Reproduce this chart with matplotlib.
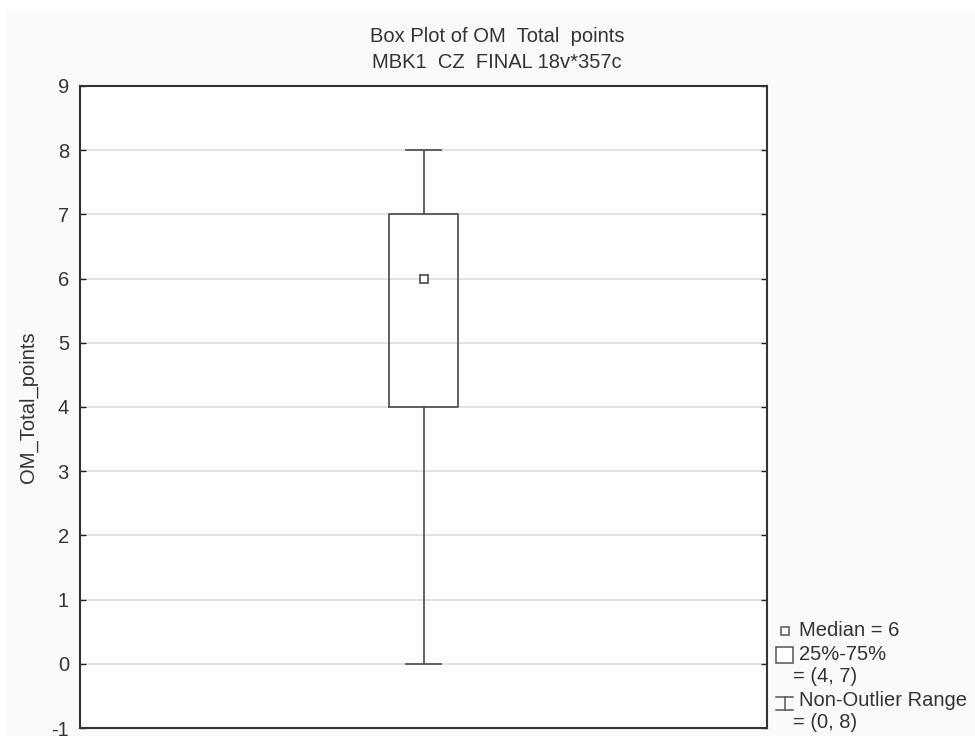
import matplotlib
matplotlib.use("Agg")
import matplotlib.pyplot as plt
from matplotlib.patches import Rectangle
from matplotlib.lines import Line2D

# summary values
variable = "OM_Total_points"
title_lines = ["Box Plot of OM  Total  points", "MBK1  CZ  FINAL 18v*357c"]
median = 6
q25, q75 = 4, 7
whisker_lo, whisker_hi = 0, 8
y_ticks = [-1, 0, 1, 2, 3, 4, 5, 6, 7, 8, 9]

plt.rcParams['font.family'] = ['Liberation Sans', 'DejaVu Sans']
plt.rcParams['axes.unicode_minus'] = False
edge = '#555555'
txt = '#333333'

fig = plt.figure(figsize=(9.75, 7.36), dpi=100)
fig.patch.set_facecolor('#fafafa')
# white strip of the screenshot border
fig.patches.append(Rectangle((0, 1 - 10 / 736), 1, 10 / 736, transform=fig.transFigure,
                             facecolor='white', edgecolor='none', zorder=-1))
fig.patches.append(Rectangle((0, 0), 6 / 975, 1, transform=fig.transFigure,
                             facecolor='white', edgecolor='none', zorder=-1))

ax = fig.add_axes([80 / 975, 8 / 736, 687 / 975, 642 / 736])
ax.set_facecolor('white')

stats = [dict(med=median, q1=q25, q3=q75, whislo=whisker_lo, whishi=whisker_hi, fliers=[])]
ax.bxp(stats, positions=[0], widths=0.2, showcaps=True, patch_artist=False,
       boxprops=dict(color=edge, linewidth=1.3),
       whiskerprops=dict(color=edge, linewidth=1.3),
       capprops=dict(color=edge, linewidth=1.3),
       medianprops=dict(linewidth=0))
ax.plot([0], [median], marker='s', markersize=6, markerfacecolor='white',
        markeredgecolor=edge, markeredgewidth=1.3, linestyle='none', zorder=5)

ax.set_xlim(-1, 1)
ax.set_ylim(min(y_ticks), max(y_ticks))
ax.set_yticks(y_ticks)
ax.set_xticks([])
ax.yaxis.grid(True, color='#dddddd', linewidth=1.2)
ax.set_axisbelow(True)
ax.tick_params(axis='y', direction='in', length=4, width=1, color='#222222',
               labelsize=14.5, labelcolor=txt, pad=8, right=True)
for s in ax.spines.values():
    s.set_color('#333333')
    s.set_linewidth(1.5)
ax.set_ylabel(variable, fontsize=14.5, color=txt)
ax.yaxis.set_label_coords(-52 / 687, 0.5)
ax.yaxis.label.set_va('center')

fig.text(497 / 975, 1 - 36 / 736, title_lines[0], ha='center', va='center',
         fontsize=14.5, color=txt)
fig.text(497 / 975, 1 - 62 / 736, title_lines[1], ha='center', va='center',
         fontsize=14.5, color=txt)

# legend, drawn in figure pixels
def fy(py):
    return 1 - py / 736

def fx(px):
    return px / 975

fig.lines.append(Line2D([fx(785)], [fy(631)], marker='s', markersize=6, markerfacecolor='white',
                        markeredgecolor=edge, markeredgewidth=1.1, transform=fig.transFigure))
fig.patches.append(Rectangle((fx(776), fy(663)), fx(793) - fx(776), fy(647) - fy(663),
                             transform=fig.transFigure, facecolor='white', edgecolor=edge,
                             linewidth=1.1))
for xs, ys in [([776, 793], [697, 697]), ([776, 793], [710, 710]), ([784.5, 784.5], [697, 710])]:
    fig.lines.append(Line2D([fx(v) for v in xs], [fy(v) for v in ys], color=edge,
                            linewidth=1.1, transform=fig.transFigure))

leg_kw = dict(ha='left', va='center', fontsize=14.5, color=txt)
fig.text(fx(799), fy(630), f"Median = {median}", **leg_kw)
fig.text(fx(799), fy(655), "25%-75%", **leg_kw)
fig.text(fx(793), fy(676), f"= ({q25}, {q75})", **leg_kw)
fig.text(fx(799), fy(700), "Non-Outlier Range", **leg_kw)
fig.text(fx(793), fy(722), f"= ({whisker_lo}, {whisker_hi})", **leg_kw)

fig.savefig("out.png", dpi=100, facecolor=fig.get_facecolor())
